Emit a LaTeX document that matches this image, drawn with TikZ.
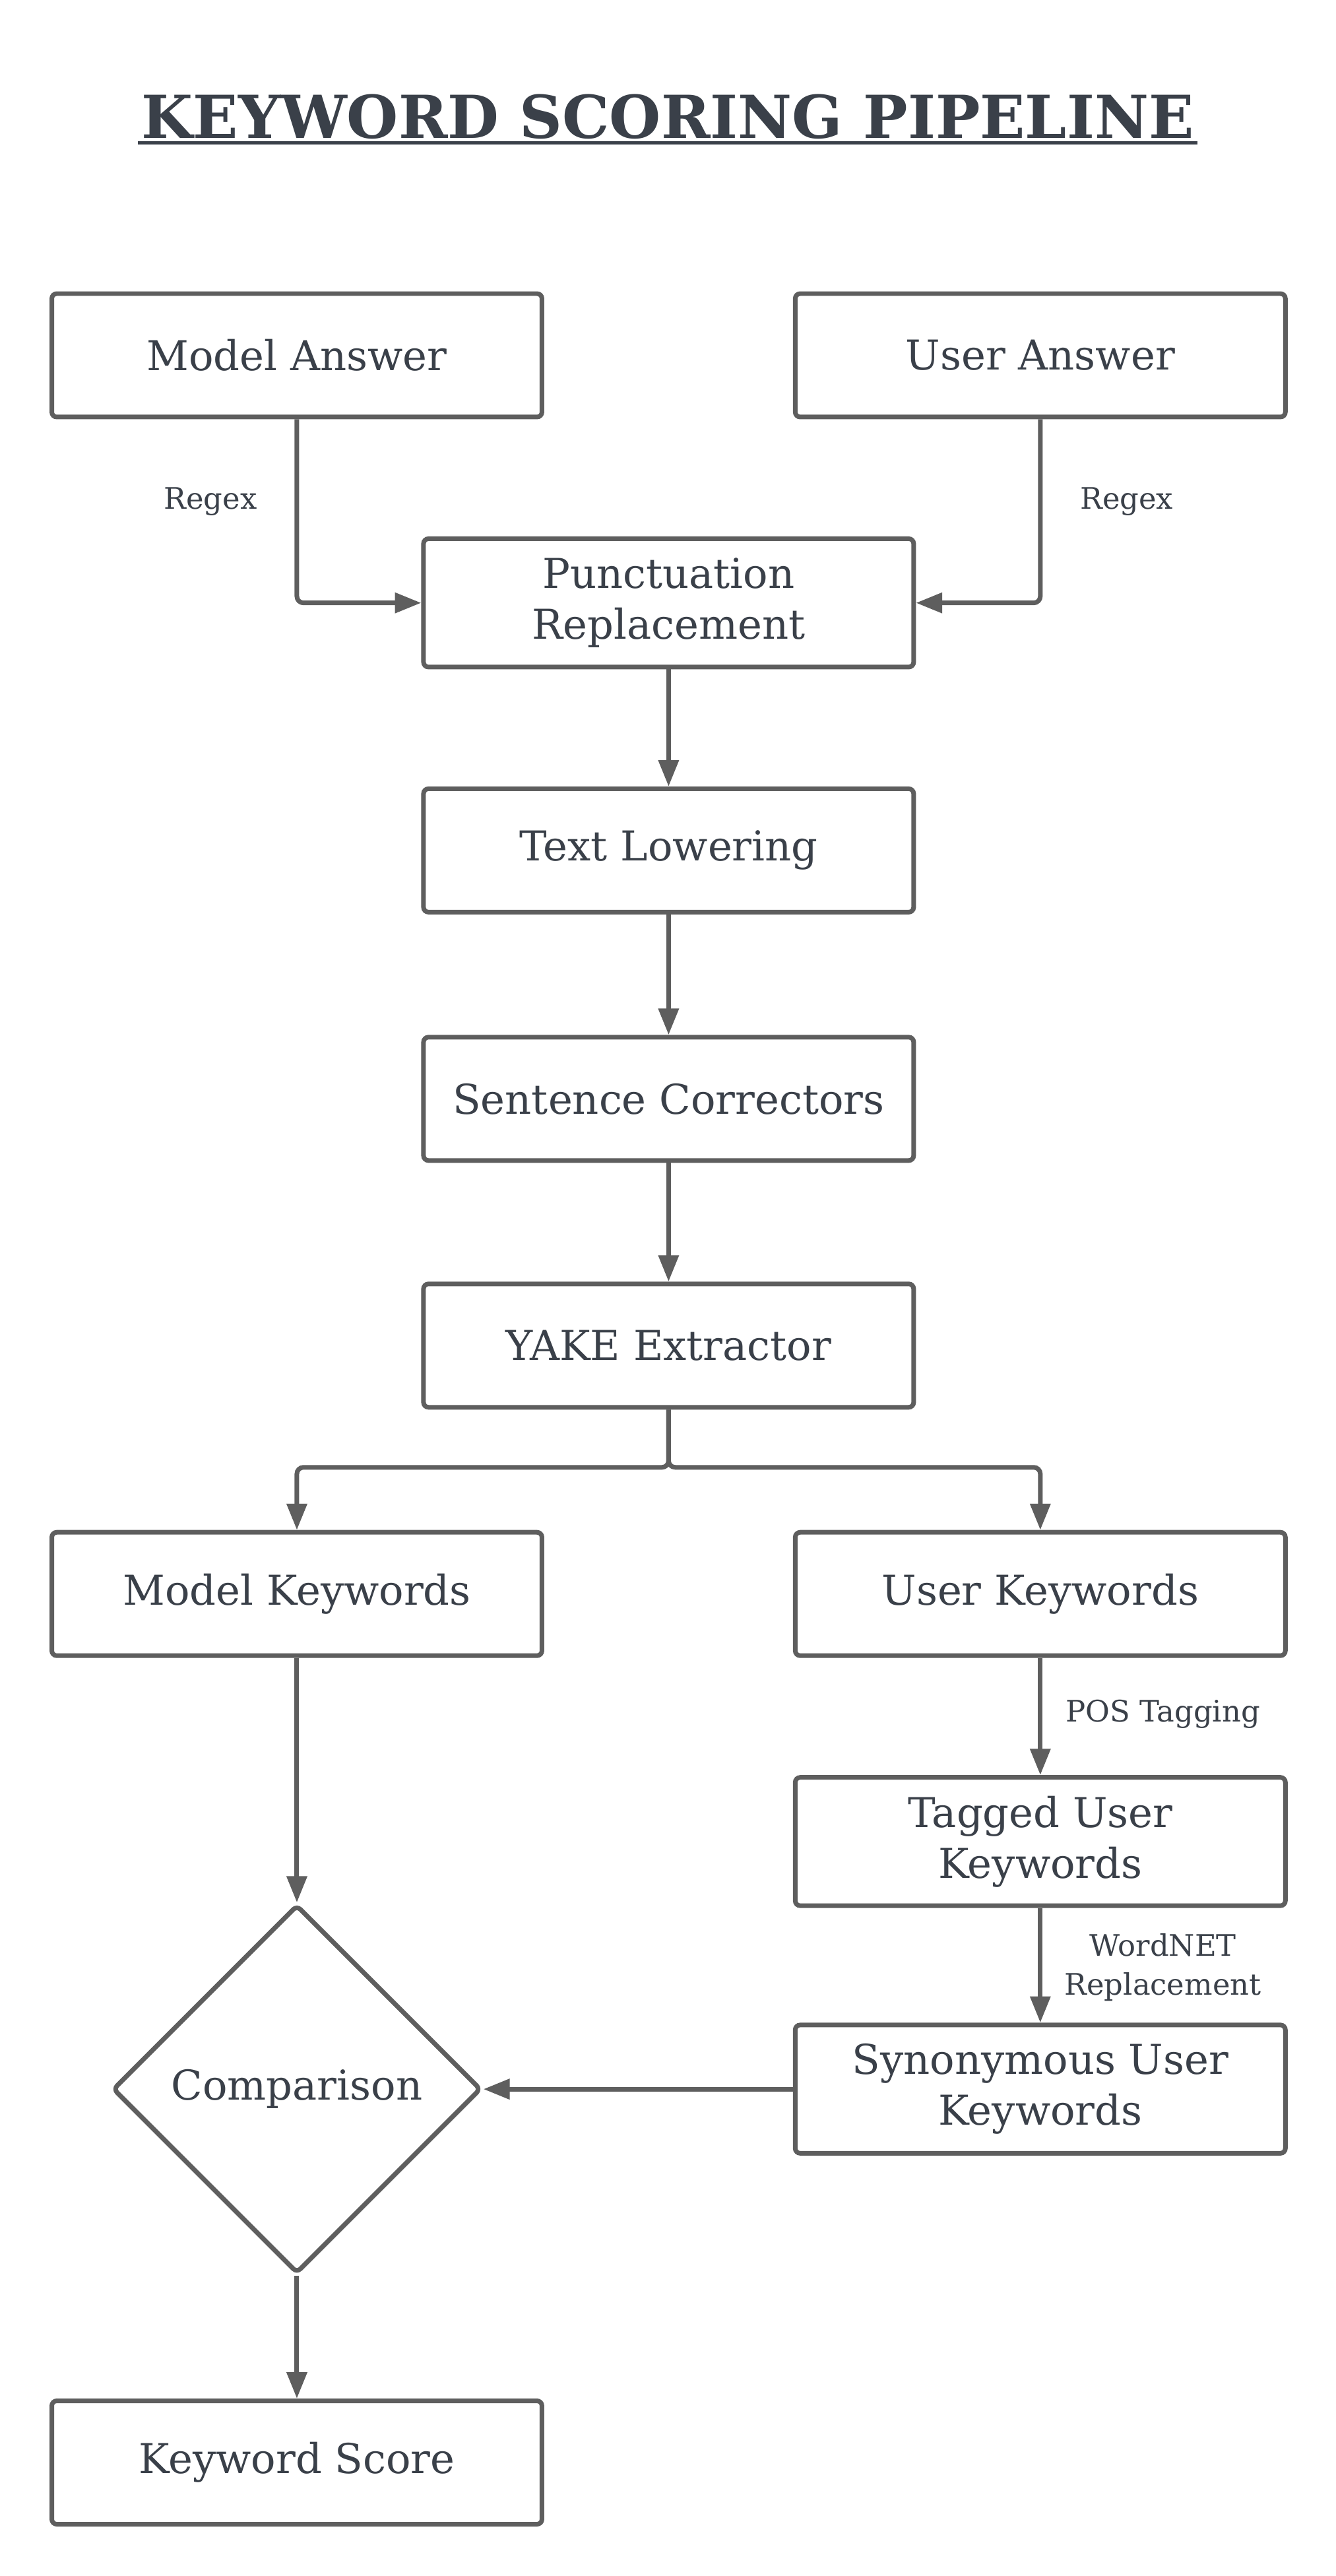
\documentclass[tikz,border=0pt]{standalone}
\usepackage{fontspec}
\setmainfont{DejaVu Serif}
\usetikzlibrary{arrows.meta,positioning,shapes.geometric}

\definecolor{linegray}{HTML}{5E5E5E}
\definecolor{inkgray}{HTML}{3A4049}

\tikzset{
	stage/.style={draw=linegray, line width=2.8pt, rounded corners=3pt, minimum width=298pt, minimum height=75pt, inner sep=2pt, align=center, text=inkgray, font=\fontsize{25}{31}\selectfont},
	tallstage/.style={stage, minimum height=78pt},
	decide/.style={diamond, draw=linegray, line width=2.8pt, rounded corners=3pt, minimum width=224pt, minimum height=224pt, inner sep=0pt, text=inkgray, font=\fontsize{25}{31}\selectfont},
	flow/.style={draw=linegray, line width=2.8pt, rounded corners=4pt, -{Triangle[length=16pt,width=12pt]}},
	note/.style={text=inkgray, align=center, font=\fontsize{18}{24}\selectfont}
}

\begin{document}
\begin{tikzpicture}[x=1pt, y=-1pt]
	\fill[white] (0,0) rectangle (812,1566);

	% title
	\node[anchor=base, text=inkgray, inner xsep=2pt, font=\fontsize{36}{44}\bfseries] (title) at (406,84) {KEYWORD SCORING PIPELINE};
	\draw[inkgray, line width=2pt] ([yshift=-3pt]title.base west) -- ([yshift=-3pt]title.base east);

	% inputs
	\node[stage] (mans) at (180.5,216) {Model Answer};
	\node[stage] (uans) at (632.5,216) {User Answer};

	% common preprocessing
	\node[tallstage] (punct) at (406.5,366.5) {Punctuation\\Replacement};
	\node[stage] (lower) at (406.5,517) {Text Lowering};
	\node[stage] (sent) at (406.5,668) {Sentence Correctors};
	\node[stage] (yake) at (406.5,818) {YAKE Extractor};
	\coordinate (split) at (406.5,892);

	% keywords
	\node[stage] (mkey) at (180.5,969) {Model Keywords};
	\node[stage] (ukey) at (632.5,969) {User Keywords};
	\node[tallstage] (tag) at (632.5,1119.5) {Tagged User\\Keywords};
	\node[tallstage] (syn) at (632.5,1270) {Synonymous User\\Keywords};
	\node[decide] (cmp) at (180.5,1270) {Comparison};
	\node[stage] (score) at (180.5,1497) {Keyword Score};

	% connectors
	\draw[flow] (mans.south) |- (punct.west);
	\draw[flow] (uans.south) |- (punct.east);
	\draw[flow] (punct) -- (lower);
	\draw[flow] (lower) -- (sent);
	\draw[flow] (sent) -- (yake);
	\draw[flow] (yake.south) -- (split) -| (mkey.north);
	\draw[flow] (yake.south) -- (split) -| (ukey.north);
	\draw[flow] (mkey) -- (cmp);
	\draw[flow] (ukey) -- (tag);
	\draw[flow] (tag) -- (syn);
	\draw[flow] (syn.west) -- (cmp.east);
	\draw[flow] (cmp) -- (score);

	% labels
	\node[note] (rgxl) at (128,305) {Regex};
	\node[note] (rgxr) at (685,305) {Regex};
	\node[note] (pos) at (707,1042) {POS Tagging};
	\node[note] (wnet) at (707,1196) {WordNET\\Replacement};
\end{tikzpicture}
\end{document}
